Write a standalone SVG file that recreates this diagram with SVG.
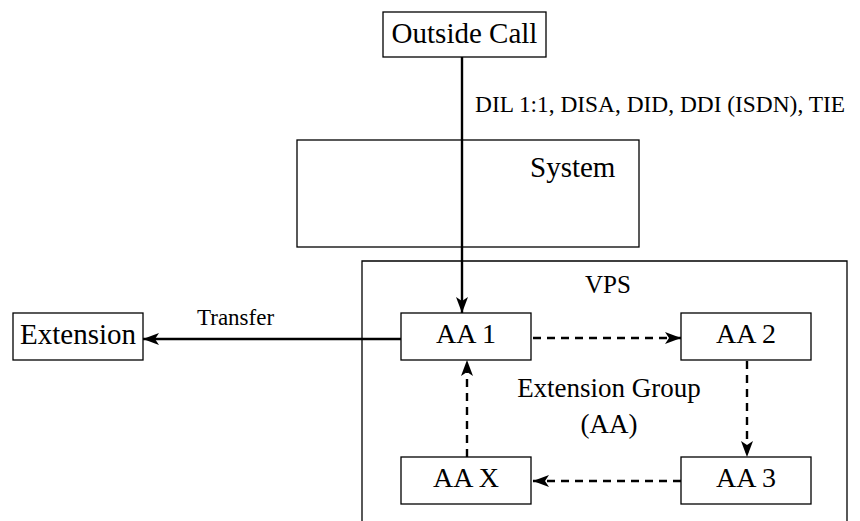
<svg xmlns="http://www.w3.org/2000/svg" width="860" height="521" viewBox="0 0 860 521">
<defs>
<style>
.box{fill:#fff;stroke:#000;stroke-width:1.3}
.t{font-family:"Liberation Serif","Times New Roman",serif;fill:#000}
.n{font-size:29px}
.a{font-size:28px;text-anchor:middle}
.c{fill:none;stroke:#000;stroke-width:2.4}
.d{stroke-dasharray:8,6}
</style>
<marker id="ah" viewBox="0 0 16 12" refX="16" refY="6" markerWidth="16" markerHeight="12" markerUnits="userSpaceOnUse" orient="auto">
<path d="M0,0 L16,6 L0,12 L4,6 z" fill="#000"/>
</marker>
</defs>
<rect width="860" height="521" fill="#fff"/>
<g id="system">
<rect class="box" x="297" y="140" width="342" height="107"/>
<text class="t n" x="530" y="177">System</text>
</g>
<g id="vps">
<path d="M362,521 V261 H847 V521" fill="none" stroke="#000" stroke-width="1.3"/>
<text class="t" x="585" y="293" font-size="25">VPS</text>
</g>
<g id="connectors">
<line class="c" x1="462" y1="57" x2="462" y2="313" marker-end="url(#ah)"/>
<line class="c" x1="401" y1="339" x2="143" y2="339" marker-end="url(#ah)"/>
<line class="c d" x1="533" y1="338" x2="681" y2="338" marker-end="url(#ah)"/>
<line class="c d" x1="747" y1="361" x2="747" y2="457" marker-end="url(#ah)"/>
<line class="c d" x1="681" y1="481" x2="533" y2="481" marker-end="url(#ah)"/>
<line class="c d" x1="467" y1="457" x2="467" y2="360" marker-end="url(#ah)"/>
<text class="t" x="475" y="112" font-size="24" textLength="370" lengthAdjust="spacingAndGlyphs">DIL 1:1, DISA, DID, DDI (ISDN), TIE</text>
<text class="t" x="197" y="325" font-size="23">Transfer</text>
</g>
<g id="outside-call">
<rect class="box" x="383" y="12" width="163" height="45"/>
<text class="t n" x="464.5" y="43" text-anchor="middle">Outside Call</text>
</g>
<g id="extension">
<rect class="box" x="13" y="313" width="130" height="47"/>
<text class="t n" x="78" y="344" text-anchor="middle">Extension</text>
</g>
<g id="aa1">
<rect class="box" x="401" y="313" width="130" height="47"/>
<text class="t a" x="466" y="343">AA 1</text>
</g>
<g id="aa2">
<rect class="box" x="681" y="313" width="130" height="47"/>
<text class="t a" x="746" y="343">AA 2</text>
</g>
<g id="aa3">
<rect class="box" x="681" y="457" width="130" height="47"/>
<text class="t a" x="746" y="487">AA 3</text>
</g>
<g id="aax">
<rect class="box" x="401" y="457" width="130" height="47"/>
<text class="t a" x="466" y="487">AA X</text>
</g>
<g id="group-label">
<text class="t" x="609" y="397" font-size="27" text-anchor="middle">Extension Group</text>
<text class="t" x="609" y="433" font-size="27" text-anchor="middle">(AA)</text>
</g>
</svg>
